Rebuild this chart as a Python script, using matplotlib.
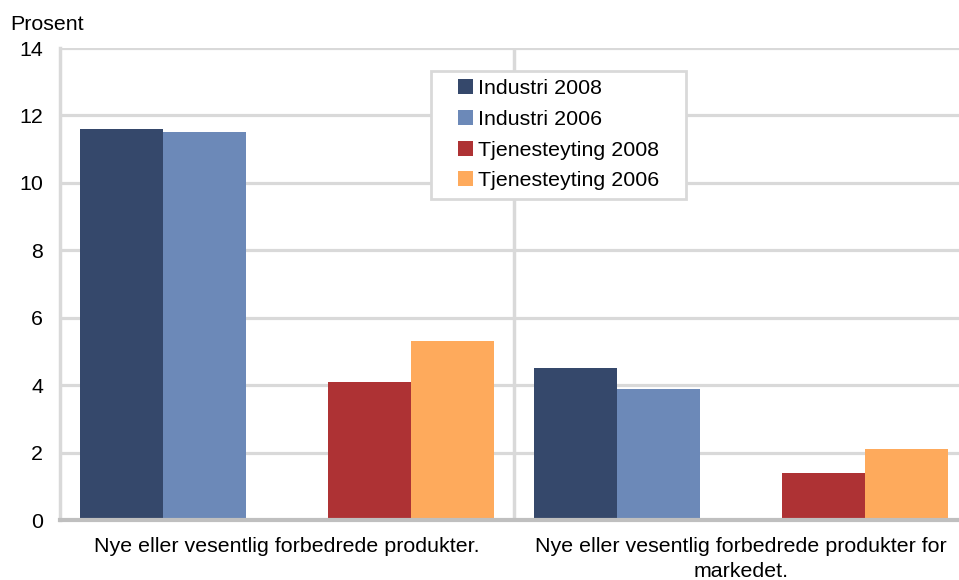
import matplotlib.pyplot as plt
from matplotlib.patches import Rectangle
import numpy as np

plt.rcParams['font.family'] = ['Liberation Sans', 'DejaVu Sans']

categories = ["Nye eller vesentlig forbedrede produkter.",
              "Nye eller vesentlig forbedrede produkter for\nmarkedet."]
series = ["Industri 2008", "Industri 2006", "Tjenesteyting 2008", "Tjenesteyting 2006"]
values = [
    [11.6, 4.5],   # Industri 2008
    [11.5, 3.9],   # Industri 2006
    [4.1, 1.4],    # Tjenesteyting 2008
    [5.3, 2.1],    # Tjenesteyting 2006
]
colors = ['#35486B', '#6C89B8', '#AE3234', '#FEAA5C']
yticks = [0, 2, 4, 6, 8, 10, 12, 14]

FS = 15.4

fig = plt.figure(figsize=(9.59, 5.80), dpi=100)
# axes runs a bit past the right edge, like the original
ax = fig.add_axes([60 / 959, 60 / 580, 908 / 959, 472 / 580])

centers = np.arange(len(categories)) + 0.5
w = 0.182
offsets = [-2 * w, -w, w, 2 * w]
for i, name in enumerate(series):
    ax.bar(centers + offsets[i], values[i], width=w, color=colors[i],
           label=name, zorder=3)

ax.set_xlim(0, 2)
ax.set_ylim(0, 14)
ax.set_yticks(yticks)
ax.set_yticklabels([str(t) for t in yticks], fontsize=FS)
ax.set_xticks(centers)
ax.set_xticklabels(categories, fontsize=FS)
for lbl in ax.get_xticklabels():
    lbl.set_linespacing(1.45)
ax.tick_params(axis='x', length=0, pad=12)
ax.tick_params(axis='y', length=0, pad=12)

for t in yticks[1:]:
    ax.axhline(t, color='#D9D9D9', lw=2.3, zorder=1)
ax.axvline(1, color='#D9D9D9', lw=2.5, zorder=1)

for s in ['top', 'right']:
    ax.spines[s].set_visible(False)
ax.spines['left'].set_color('#D9D9D9')
ax.spines['left'].set_linewidth(2.5)
ax.spines['bottom'].set_color('#BFBFBF')
ax.spines['bottom'].set_linewidth(3)
ax.spines['bottom'].set_zorder(4)

fig.text(10 / 959, 1 - 24 / 580, "Prosent", fontsize=FS, va='center', ha='left')

# legend without its own frame; box drawn separately to match the original padding
box = Rectangle((431 / 959, 1 - 199 / 580), 255 / 959, 128 / 580,
                transform=fig.transFigure, facecolor='white',
                edgecolor='#D9D9D9', linewidth=2, zorder=4, clip_on=False)
ax.add_patch(box)
leg = ax.legend(loc='upper left', bbox_to_anchor=((458 - 60) / 908, 1 - (79 - 48) / 472),
                fontsize=FS, frameon=False,
                handlelength=0.7, handleheight=0.7, handletextpad=0.23,
                labelspacing=0.55, borderpad=0, borderaxespad=0)
leg.set_zorder(5)

fig.savefig('out.png', dpi=100)
